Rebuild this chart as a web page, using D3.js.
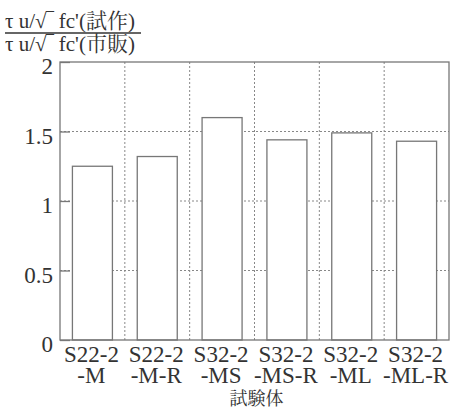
<!DOCTYPE html>
<html>
<head>
<meta charset="utf-8">
<script src="https://cdn.jsdelivr.net/npm/d3@7"></script>
<style>
  body { margin: 0; background: #fff; }
</style>
</head>
<body>
<svg id="chart"></svg>
<script>
let names1 = ["S22-2", "S22-2", "S32-2", "S32-2", "S32-2", "S32-2"];
let names2 = ["-M", "-M-R", "-MS", "-MS-R", "-ML", "-ML-R"];
let values = [1.25, 1.32, 1.60, 1.44, 1.49, 1.43];
let yTicks = [0, 0.5, 1, 1.5, 2];
let yTickLabels = ["0", "0.5", "1", "1.5", "2"];

let font = "Liberation Serif, Noto Serif CJK JP";
let textCol = "#333";

let svgWidth = 452, svgHeight = 407;
let margin = {top: 62, right: 3, bottom: 67, left: 60};
let width = svgWidth - margin.left - margin.right,
    height = svgHeight - margin.top - margin.bottom;

let idx = d3.range(values.length);

let x = d3.scaleBand().domain(idx).range([0, width]).paddingInner(0).paddingOuter(0);
let y = d3.scaleLinear().domain([0, 2]).range([height, 0]);

let svg = d3.select("#chart")
    .attr("width", svgWidth)
    .attr("height", svgHeight);

let g = svg.append("g")
    .attr("transform", "translate(" + margin.left + "," + margin.top + ")");

let lineCol = "#777";

// grid
g.selectAll(".hgrid")
    .data(yTicks.filter(function(d){ return d > 0 && d < 2; }))
    .enter().append("line")
    .attr("x1", 0).attr("x2", width)
    .attr("y1", function(d){ return y(d); })
    .attr("y2", function(d){ return y(d); })
    .attr("stroke", "#888")
    .attr("stroke-dasharray", "2,2");

g.selectAll(".vgrid")
    .data(idx.slice(1))
    .enter().append("line")
    .attr("x1", function(d){ return x(d); })
    .attr("x2", function(d){ return x(d); })
    .attr("y1", 0).attr("y2", height)
    .attr("stroke", "#888")
    .attr("stroke-dasharray", "2,2");

// bars
let barW = 40;
g.selectAll(".bar")
    .data(idx)
    .enter().append("rect")
    .attr("x", function(d){ return x(d) + (x.bandwidth() - barW) / 2; })
    .attr("y", function(d){ return y(values[d]); })
    .attr("width", barW)
    .attr("height", function(d){ return height - y(values[d]); })
    .attr("fill", "#fff")
    .attr("stroke", lineCol)
    .attr("stroke-width", 1.3);

// frame
g.append("rect")
    .attr("x", 0).attr("y", 0)
    .attr("width", width).attr("height", height)
    .attr("fill", "none")
    .attr("stroke", lineCol)
    .attr("stroke-width", 1.3);

// y axis (inward ticks)
let yAxis = d3.axisLeft(y)
    .tickValues(yTicks)
    .tickSize(-10)
    .tickPadding(7)
    .tickFormat(function(d, i){ return yTickLabels[i]; });

let ya = g.append("g").call(yAxis)
    .attr("font-family", font)
    .attr("font-size", 23);
ya.select(".domain").remove();
ya.selectAll(".tick line").attr("stroke", lineCol).attr("stroke-width", 1.3);
ya.selectAll(".tick text")
    .attr("fill", textCol)
    .attr("dy", "0.5em");

// x labels, two lines each
let xl = g.selectAll(".xlab")
    .data(idx)
    .enter().append("text")
    .attr("text-anchor", "middle")
    .attr("font-family", font)
    .attr("font-size", 23)
    .attr("fill", textCol);
xl.append("tspan")
    .attr("x", function(d){ return x(d) + x.bandwidth() / 2 - 1; })
    .attr("y", height + 22)
    .text(function(d){ return names1[d]; });
xl.append("tspan")
    .attr("x", function(d){ return x(d) + x.bandwidth() / 2 - 1; })
    .attr("y", height + 43)
    .text(function(d){ return names2[d]; });

g.append("text")
    .attr("x", width / 2 + 2)
    .attr("y", height + 65)
    .attr("text-anchor", "middle")
    .attr("font-family", "Noto Serif CJK JP")
    .attr("font-size", 18)
    .attr("fill", textCol)
    .text("試験体");

// y title (fraction)
svg.append("text")
    .attr("x", 5).attr("y", 28)
    .attr("font-family", font)
    .attr("font-size", 21)
    .attr("fill", textCol)
    .text("τ u/√‾ fc'(試作)");
svg.append("line")
    .attr("x1", 5).attr("x2", 141)
    .attr("y1", 33).attr("y2", 33)
    .attr("stroke", textCol)
    .attr("stroke-width", 1.3);
svg.append("text")
    .attr("x", 5).attr("y", 51)
    .attr("font-family", font)
    .attr("font-size", 21)
    .attr("fill", textCol)
    .text("τ u/√‾ fc'(市販)");
</script>
</body>
</html>
